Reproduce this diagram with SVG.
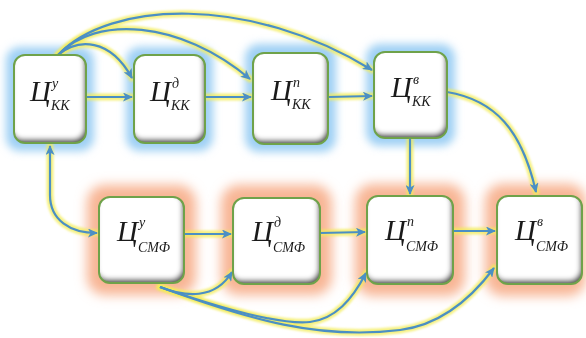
<svg xmlns="http://www.w3.org/2000/svg" width="586" height="338" viewBox="0 0 586 338">
<style>
.box{fill:#ffffff;filter:url(#inset)}
.edge{fill:none;stroke:#6fa24a;stroke-width:2}
.gb{fill:#9fd0f4;filter:url(#blur)}
.go{fill:#f8b594;filter:url(#blur2)}
.glow{fill:none;stroke:#f3ec55;stroke-width:7;stroke-linecap:round;opacity:0.75}
.line{fill:none;stroke:#4b8fc4;stroke-width:2.2}
.m{font-family:"Liberation Serif","DejaVu Serif",serif;font-style:italic;fill:#1a1a1a}
.big{font-size:29px}
.sm{font-size:14px}
</style>
<defs>
<filter id="blur" x="-30%" y="-30%" width="160%" height="160%"><feGaussianBlur stdDeviation="4"/></filter>
<filter id="blur2" x="-30%" y="-30%" width="160%" height="160%"><feGaussianBlur stdDeviation="6"/></filter>
<filter id="gblur" x="-10%" y="-10%" width="120%" height="120%"><feGaussianBlur stdDeviation="1.2"/></filter>
<filter id="inset" x="-10%" y="-10%" width="120%" height="120%">
<feGaussianBlur in="SourceAlpha" stdDeviation="2.5" result="b"/>
<feOffset in="b" dx="-2" dy="-4" result="o"/>
<feComposite in="SourceAlpha" in2="o" operator="out" result="sh"/>
<feFlood flood-color="#4a4a4a" result="c"/>
<feComposite in="c" in2="sh" operator="in" result="s2"/>
<feMerge><feMergeNode in="SourceGraphic"/><feMergeNode in="s2"/></feMerge>
</filter>
<marker id="ah" markerWidth="10" markerHeight="9" refX="9" refY="4.5" orient="auto" markerUnits="userSpaceOnUse">
<path d="M0,0 L10,4.5 L0,9 L2.5,4.5 z" fill="#4b8fc4"/>
</marker>
<marker id="as" markerWidth="10" markerHeight="9" refX="1" refY="4.5" orient="auto" markerUnits="userSpaceOnUse">
<path d="M10,0 L0,4.5 L10,9 L7.5,4.5 z" fill="#4b8fc4"/>
</marker>
<path id="p1" d="M86,97 L132,97"/>
<path id="p2" d="M205,97 L251,97"/>
<path id="p3" d="M328,97 L372,96"/>
<path id="p4" d="M58,55 C78,38 110,38 132,78"/>
<path id="p5" d="M58,55 C95,15 180,20 250,79"/>
<path id="p6" d="M58,55 C110,0 250,-5 372,70"/>
<path id="p7" d="M447,92 C495,100 522,130 536,192"/>
<path id="p8" d="M410,138 L410,194"/>
<path id="p9" d="M50,146 L50,195 C50,220 70,233 97,233"/>
<path id="p10" d="M184,234 L231,234"/>
<path id="p11" d="M320,233 L365,232"/>
<path id="p12" d="M453,231 L495,231"/>
<path id="p13" d="M160,287 C185,297 215,300 232,272"/>
<path id="p14" d="M160,287 C220,308 280,325 310,322 C335,319 352,300 366,273"/>
<path id="p15" d="M160,287 C250,320 320,340 400,330 C440,325 470,300 494,268"/>
</defs>
<rect width="586" height="338" fill="#ffffff"/>
<g id="halos">
<rect class="gb" x="6" y="47" width="88" height="104" rx="14"/>
<rect class="gb" x="126" y="47" width="87" height="104" rx="14"/>
<rect class="gb" x="245" y="44" width="91" height="108" rx="14"/>
<rect class="gb" x="366" y="44" width="89" height="102" rx="14"/>
<rect class="go" x="87" y="185" width="109" height="110" rx="18"/>
<rect class="go" x="221" y="185" width="111" height="110" rx="18"/>
<rect class="go" x="355" y="184" width="110" height="112" rx="18"/>
<rect class="go" x="485" y="184" width="101" height="112" rx="18"/>
</g>
<g id="connectors">
<g filter="url(#gblur)">
<use href="#p1" class="glow"/><use href="#p2" class="glow"/><use href="#p3" class="glow"/>
<use href="#p4" class="glow"/><use href="#p5" class="glow"/><use href="#p6" class="glow"/>
<use href="#p7" class="glow"/><use href="#p8" class="glow"/><use href="#p9" class="glow"/>
<use href="#p10" class="glow"/><use href="#p11" class="glow"/><use href="#p12" class="glow"/>
<use href="#p13" class="glow"/><use href="#p14" class="glow"/><use href="#p15" class="glow"/>
</g>
<use href="#p1" class="line" marker-end="url(#ah)"/>
<use href="#p2" class="line" marker-end="url(#ah)"/>
<use href="#p3" class="line" marker-end="url(#ah)"/>
<use href="#p4" class="line" marker-end="url(#ah)"/>
<use href="#p5" class="line" marker-end="url(#ah)"/>
<use href="#p6" class="line" marker-end="url(#ah)"/>
<use href="#p7" class="line" marker-end="url(#ah)"/>
<use href="#p8" class="line" marker-end="url(#ah)"/>
<use href="#p9" class="line" marker-start="url(#as)" marker-end="url(#ah)"/>
<use href="#p10" class="line" marker-end="url(#ah)"/>
<use href="#p11" class="line" marker-end="url(#ah)"/>
<use href="#p12" class="line" marker-end="url(#ah)"/>
<use href="#p13" class="line" marker-end="url(#ah)"/>
<use href="#p14" class="line" marker-end="url(#ah)"/>
<use href="#p15" class="line" marker-end="url(#ah)"/>
</g>
<g id="n1">
<rect class="box" x="14" y="55" width="72" height="88" rx="11"/>
<rect class="edge" x="14" y="55" width="72" height="88" rx="11"/>
<text class="m big" x="30" y="101">Ц</text><text class="m sm" x="52" y="88">у</text><text class="m sm" x="51" y="110">КК</text>
</g>
<g id="n2">
<rect class="box" x="134" y="55" width="71" height="88" rx="11"/>
<rect class="edge" x="134" y="55" width="71" height="88" rx="11"/>
<text class="m big" x="150" y="101">Ц</text><text class="m sm" x="172" y="88">д</text><text class="m sm" x="171" y="110">КК</text>
</g>
<g id="n3">
<rect class="box" x="253" y="53" width="75" height="91" rx="11"/>
<rect class="edge" x="253" y="53" width="75" height="91" rx="11"/>
<text class="m big" x="271" y="100">Ц</text><text class="m sm" x="293" y="87">п</text><text class="m sm" x="292" y="109">КК</text>
</g>
<g id="n4">
<rect class="box" x="374" y="52" width="73" height="86" rx="11"/>
<rect class="edge" x="374" y="52" width="73" height="86" rx="11"/>
<text class="m big" x="391" y="97">Ц</text><text class="m sm" x="413" y="84">в</text><text class="m sm" x="412" y="106">КК</text>
</g>
<g id="n5">
<rect class="box" x="99" y="197" width="85" height="86" rx="11"/>
<rect class="edge" x="99" y="197" width="85" height="86" rx="11"/>
<text class="m big" x="117" y="241">Ц</text><text class="m sm" x="139" y="227">у</text><text class="m sm" x="138" y="252">СМФ</text>
</g>
<g id="n6">
<rect class="box" x="233" y="198" width="87" height="86" rx="11"/>
<rect class="edge" x="233" y="198" width="87" height="86" rx="11"/>
<text class="m big" x="252" y="241">Ц</text><text class="m sm" x="274" y="227">д</text><text class="m sm" x="273" y="252">СМФ</text>
</g>
<g id="n7">
<rect class="box" x="367" y="196" width="86" height="88" rx="11"/>
<rect class="edge" x="367" y="196" width="86" height="88" rx="11"/>
<text class="m big" x="385" y="240">Ц</text><text class="m sm" x="407" y="226">п</text><text class="m sm" x="406" y="251">СМФ</text>
</g>
<g id="n8">
<rect class="box" x="497" y="196" width="85" height="88" rx="11"/>
<rect class="edge" x="497" y="196" width="85" height="88" rx="11"/>
<text class="m big" x="515" y="240">Ц</text><text class="m sm" x="537" y="226">в</text><text class="m sm" x="536" y="251">СМФ</text>
</g>
</svg>
